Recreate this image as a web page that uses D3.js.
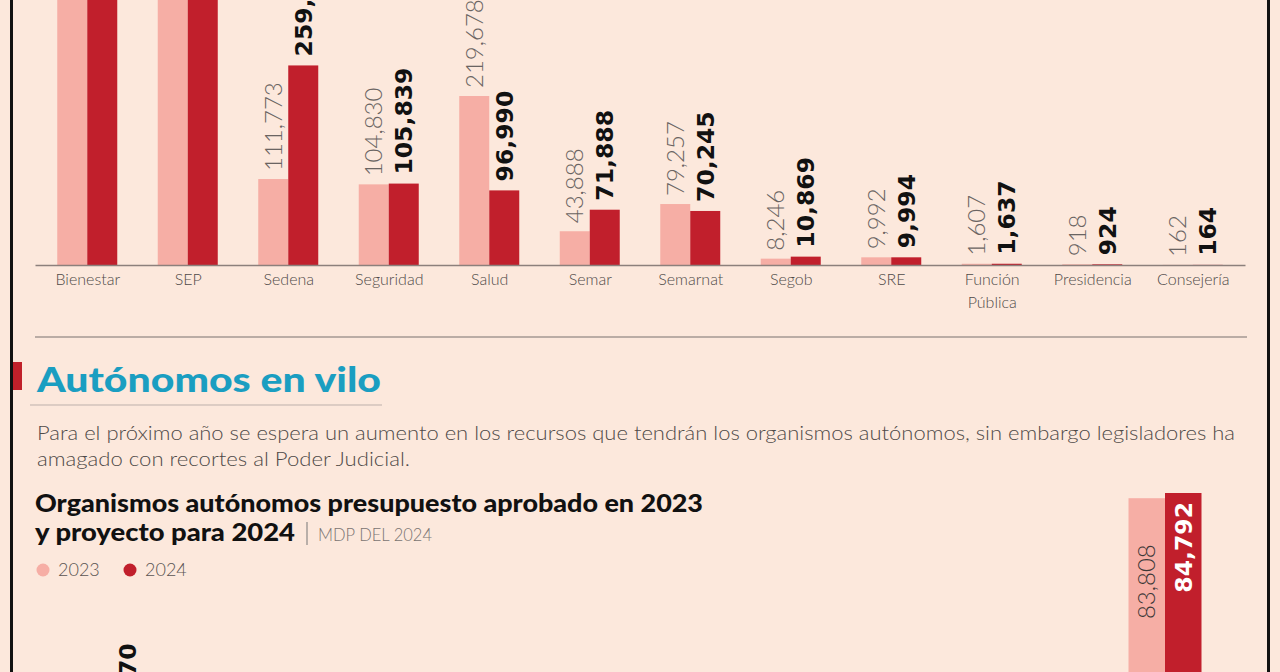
<!DOCTYPE html>
<meta charset="utf-8">
<style>
  body { margin: 0; background: #fce8dc; }
  svg { display: block; font-family: Lato, "Open Sans", sans-serif; }
  .num-bold { font-family: "DejaVu Sans", Lato, sans-serif; font-weight: bold; }
</style>

<svg id="chart" width="1280" height="672"></svg>

<script src="https://d3js.org/d3.v7.min.js"></script>
<script>

// dependencias, MDP del 2024
var categories = ["Bienestar", "SEP", "Sedena", "Seguridad", "Salud", "Semar", "Semarnat",
                  "Segob", "SRE", "Función Pública", "Presidencia", "Consejería"];
var values2023 = [436529, 401530, 111773, 104830, 219678, 43888, 79257, 8246, 9992, 1607, 918, 162];
var values2024 = [571221, 435826, 259434, 105839, 96990, 71888, 70245, 10869, 9994, 1637, 924, 164];

// organismos autónomos, MDP del 2024
var autoCategories = ["INE", "FGR", "INEGI", "CNDH", "IFT", "Cofece", "INAI", "Poder Judicial"];
var auto2023 = [25684, 19602, 13120, 1745, 1598, 667, 1043, 83808];
var auto2024 = [37770, 20188, 11403, 1811, 1620, 683, 1062, 84792];

var legendLabels = ["2023", "2024"];

var pink = "#f6aea5", red = "#c11f2c";
var fmt = d3.format(",");

var svg = d3.select("#chart");

// marco
svg.append("line").attr("x1", 11.5).attr("x2", 11.5).attr("y1", 0).attr("y2", 672)
  .attr("stroke", "#111").attr("stroke-width", 3);
svg.append("line").attr("x1", 1268.5).attr("x2", 1268.5).attr("y1", 0).attr("y2", 672)
  .attr("stroke", "#111").attr("stroke-width", 3);

// ---------- grafica superior ----------
var x = d3.scalePoint()
  .domain(categories)
  .range([35, 1245])
  .padding(0.52);

var y = d3.scaleLinear()
  .domain([0, 344500])
  .range([265, 0]);

var bw = 30;

var topG = svg.append("g");

topG.selectAll(".b23")
  .data(categories)
  .enter()
  .append("rect")
    .attr("x", function(d) { return x(d) - bw; })
    .attr("y", function(d, i) { return y(values2023[i]); })
    .attr("width", bw)
    .attr("height", function(d, i) { return y(0) - y(values2023[i]); })
    .attr("fill", pink);

topG.selectAll(".b24")
  .data(categories)
  .enter()
  .append("rect")
    .attr("x", function(d) { return x(d); })
    .attr("y", function(d, i) { return y(values2024[i]); })
    .attr("width", bw)
    .attr("height", function(d, i) { return y(0) - y(values2024[i]); })
    .attr("fill", red);

topG.selectAll(".l23")
  .data(categories)
  .enter()
  .append("text")
    .attr("transform", function(d, i) {
      return "translate(" + (x(d) - bw / 2) + "," + (y(values2023[i]) - 8) + ")rotate(-90)";
    })
    .attr("dy", "0.36em")
    .style("font-size", "24px")
    .style("font-weight", 300)
    .attr("fill", "#6a6462")
    .text(function(d, i) { return fmt(values2023[i]); });

topG.selectAll(".l24")
  .data(categories)
  .enter()
  .append("text")
    .attr("class", "num-bold")
    .attr("transform", function(d, i) {
      return "translate(" + (x(d) + bw / 2) + "," + (y(values2024[i]) - 9) + ")rotate(-90)";
    })
    .attr("dy", "0.36em")
    .style("font-size", "23.5px")
    .attr("fill", "#111")
    .text(function(d, i) { return fmt(values2024[i]); });

var xAxis = topG.append("g")
  .attr("transform", "translate(0,265)")
  .call(d3.axisBottom(x).tickSize(0).tickSizeOuter(0).tickPadding(9));

xAxis.select(".domain").attr("stroke", "#8c807c").attr("stroke-width", 1.5);
xAxis.selectAll("text")
  .style("font-size", "16px")
  .style("font-weight", 300)
  .style("font-family", "Lato, sans-serif")
  .attr("fill", "#4f4a48")
  .each(function(d) {
    var words = d.split(" ");
    if (words.length > 1) {
      var t = d3.select(this).text("");
      words.forEach(function(w, k) {
        t.append("tspan").attr("x", 0).attr("dy", k === 0 ? "0.71em" : "1.4em").text(w);
      });
    }
  });

// separador
svg.append("line").attr("x1", 35).attr("x2", 1247).attr("y1", 337).attr("y2", 337)
  .attr("stroke", "#a59893").attr("stroke-width", 1.5);

// ---------- encabezado ----------
svg.append("rect").attr("x", 13).attr("y", 362).attr("width", 9).attr("height", 28)
  .attr("fill", "#c0202a");

svg.append("text").attr("x", 37).attr("y", 392)
  .attr("textLength", 344).attr("lengthAdjust", "spacingAndGlyphs")
  .style("font-size", "35px").style("font-weight", 900)
  .attr("fill", "#1a9ec1")
  .text("Autónomos en vilo");

svg.append("line").attr("x1", 30).attr("x2", 382).attr("y1", 405).attr("y2", 405)
  .attr("stroke", "#bdb0ab").attr("stroke-width", 1);

svg.append("text").attr("x", 37).attr("y", 440)
  .attr("textLength", 1198).attr("lengthAdjust", "spacingAndGlyphs")
  .style("font-size", "20.5px").style("font-weight", 300)
  .attr("fill", "#4f4a48")
  .text("Para el próximo año se espera un aumento en los recursos que tendrán los organismos autónomos, sin embargo legisladores ha");

svg.append("text").attr("x", 37).attr("y", 466)
  .attr("textLength", 373).attr("lengthAdjust", "spacingAndGlyphs")
  .style("font-size", "20.5px").style("font-weight", 300)
  .attr("fill", "#4f4a48")
  .text("amagado con recortes al Poder Judicial.");

svg.append("text").attr("x", 35).attr("y", 512)
  .attr("textLength", 668).attr("lengthAdjust", "spacingAndGlyphs")
  .style("font-size", "24px").style("font-weight", 900)
  .attr("fill", "#111")
  .text("Organismos autónomos presupuesto aprobado en 2023");

svg.append("text").attr("x", 35).attr("y", 541)
  .attr("textLength", 260).attr("lengthAdjust", "spacingAndGlyphs")
  .style("font-size", "24px").style("font-weight", 900)
  .attr("fill", "#111")
  .text("y proyecto para 2024");

svg.append("line").attr("x1", 307).attr("x2", 307).attr("y1", 522).attr("y2", 545)
  .attr("stroke", "#777").attr("stroke-width", 1);

svg.append("text").attr("x", 318).attr("y", 541)
  .attr("textLength", 114).attr("lengthAdjust", "spacingAndGlyphs")
  .style("font-size", "17px").style("font-weight", 300)
  .attr("fill", "#7a7472")
  .text("MDP DEL 2024");

// leyenda
var legendX = d3.scaleOrdinal().domain(legendLabels).range([43, 130]);
var legendC = d3.scaleOrdinal().domain(legendLabels).range([pink, red]);

var legend = svg.selectAll(".legend")
  .data(legendLabels)
  .enter()
  .append("g")
    .attr("transform", function(d) { return "translate(" + legendX(d) + ",570)"; });

legend.append("circle").attr("r", 6.5).attr("fill", function(d) { return legendC(d); });
legend.append("text").attr("x", 15).attr("dy", "0.35em")
  .style("font-size", "18px").style("font-weight", 300)
  .attr("fill", "#5a5452")
  .text(function(d) { return d; });

// ---------- grafica inferior ----------
var x2 = d3.scalePoint()
  .domain(autoCategories)
  .range([109.5, 1165]);

var y2 = d3.scaleLinear()
  .domain([0, 84792])
  .range([942, 493]);

var bw2 = 36.5;
var bottomG = svg.append("g");

bottomG.selectAll(".a23")
  .data(autoCategories)
  .enter()
  .append("rect")
    .attr("x", function(d) { return x2(d) - bw2; })
    .attr("y", function(d, i) { return y2(auto2023[i]); })
    .attr("width", bw2)
    .attr("height", function(d, i) { return y2(0) - y2(auto2023[i]); })
    .attr("fill", pink);

bottomG.selectAll(".a24")
  .data(autoCategories)
  .enter()
  .append("rect")
    .attr("x", function(d) { return x2(d); })
    .attr("y", function(d, i) { return y2(auto2024[i]); })
    .attr("width", bw2)
    .attr("height", function(d, i) { return y2(0) - y2(auto2024[i]); })
    .attr("fill", red);

// etiquetas: dentro de la barra si es muy alta
bottomG.selectAll(".t23")
  .data(autoCategories)
  .enter()
  .append("text")
    .attr("transform", function(d, i) {
      var v = auto2023[i], inside = v > 60000;
      return "translate(" + (x2(d) - bw2 / 2) + "," + (inside ? y2(v) + 46 : y2(v) - 8) + ")rotate(-90)";
    })
    .attr("text-anchor", function(d, i) { return auto2023[i] > 60000 ? "end" : "start"; })
    .attr("dy", "0.36em")
    .style("font-size", "24px")
    .style("font-weight", 300)
    .attr("fill", "#3d3837")
    .text(function(d, i) { return fmt(auto2023[i]); });

bottomG.selectAll(".t24")
  .data(autoCategories)
  .enter()
  .append("text")
    .attr("class", "num-bold")
    .attr("transform", function(d, i) {
      var v = auto2024[i], inside = v > 60000;
      return "translate(" + (x2(d) + bw2 / 2) + "," + (inside ? y2(v) + 9 : y2(v) - 8) + ")rotate(-90)";
    })
    .attr("text-anchor", function(d, i) { return auto2024[i] > 60000 ? "end" : "start"; })
    .attr("dy", "0.36em")
    .style("font-size", "23.5px")
    .attr("fill", function(d, i) { return auto2024[i] > 60000 ? "#fff" : "#111"; })
    .text(function(d, i) { return fmt(auto2024[i]); });

bottomG.append("g")
  .attr("transform", "translate(0,942)")
  .call(d3.axisBottom(x2).tickSize(0).tickSizeOuter(0).tickPadding(9));

</script>
